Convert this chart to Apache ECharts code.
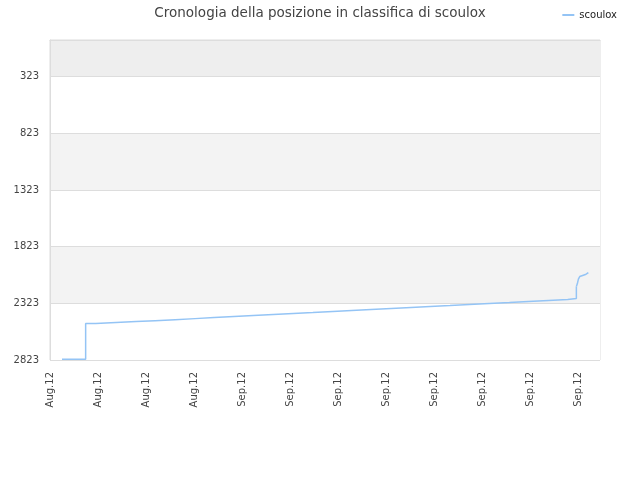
<!DOCTYPE html>
<html>
<head>
<meta charset="utf-8">
<script src="https://cdn.jsdelivr.net/npm/echarts@6/dist/echarts.min.js"></script>
<style>html,body{margin:0;padding:0;background:#fff;}#c{width:640px;height:480px;}</style>
</head>
<body>
<div id="c"></div>
<script>
// x in days from the first axis tick; stepped part of the history
var stepDays = [1.0, 2.97, 3.81, 5.5, 7.17, 8.75, 10.42, 12.08, 13.67, 15.33, 16.94, 18.6, 20.27, 21.9, 23.56, 25.14, 26.75, 28.42, 30.08, 31.67, 33.33, 34.94, 36.6, 38.28, 39.86, 41.53, 43.14, 43.86];
var stepRanks = [2816, 2502, 2493, 2484, 2476, 2467, 2458, 2449, 2440, 2431, 2422, 2413, 2405, 2396, 2387, 2378, 2369, 2360, 2351, 2343, 2334, 2325, 2316, 2307, 2298, 2289, 2281, 2175];
// final, continuously climbing part
var tailDays = [43.86, 43.94, 44.03, 44.14, 44.44, 44.67, 44.86];
var tailRanks = [2175, 2151, 2110, 2087, 2075, 2066, 2052];
var xTickValues = [0, 4, 8, 12, 16, 20, 24, 28, 32, 36, 40, 44];
var xTickLabels = ['Aug.12', 'Aug.12', 'Aug.12', 'Aug.12', 'Sep.12', 'Sep.12', 'Sep.12', 'Sep.12', 'Sep.12', 'Sep.12', 'Sep.12', 'Sep.12'];
var yTickValues = [0, 323, 823, 1323, 1823, 2323, 2823];
var yLabelValues = [323, 823, 1323, 1823, 2323, 2823];

function pairs(xs, ys) { return xs.map(function (x, i) { return [x, ys[i]]; }); }

var chart = echarts.init(document.getElementById('c'));
chart.setOption({
  animation: false,
  title: {
    text: 'Cronologia della posizione in classifica di scoulox',
    left: 'center', top: 1,
    textStyle: { fontFamily: 'DejaVu Sans', fontSize: 13.5, fontWeight: 'normal', color: '#444' }
  },
  legend: {
    right: 18, top: 5,
    itemWidth: 12, itemHeight: 2, itemGap: 8,
    icon: 'rect',
    textStyle: { fontFamily: 'DejaVu Sans', fontSize: 10, color: '#222' },
    data: ['scoulox']
  },
  grid: { left: 50, right: 40, top: 40, bottom: 120, show: true, borderColor: '#dddddd', borderWidth: 1, backgroundColor: 'transparent' },
  xAxis: {
    type: 'value', min: 0, max: 45.83,
    axisLine: { show: true, lineStyle: { color: '#dddddd' } },
    axisTick: { show: false },
    splitLine: { show: false },
    axisLabel: {
      customValues: xTickValues,
      rotate: 90, fontFamily: 'DejaVu Sans', fontSize: 10, color: '#444', margin: 12,
      formatter: function (v) { var i = xTickValues.indexOf(Math.round(v)); return i >= 0 ? xTickLabels[i] : ''; }
    }
  },
  yAxis: {
    type: 'value', inverse: true, min: 0, max: 2823,
    axisLine: { show: true, lineStyle: { color: '#dddddd' } },
    axisTick: { show: false, customValues: yTickValues },
    splitLine: { show: true, lineStyle: { color: '#dddddd' } },
    splitArea: { show: true, areaStyle: { color: ['#eeeeee', '#ffffff', '#f3f3f3', '#ffffff', '#f3f3f3', '#ffffff'] } },
    axisLabel: { customValues: yLabelValues, fontFamily: 'DejaVu Sans', fontSize: 10, color: '#444', margin: 11,
      formatter: function (v) { return String(v); } }
  },
  series: [{
    name: 'scoulox', type: 'line', step: 'end', showSymbol: false,
    lineStyle: { color: '#94c4f5', width: 1.5 },
    itemStyle: { color: '#94c4f5' },
    data: pairs(stepDays, stepRanks)
  }, {
    name: 'scoulox', type: 'line', showSymbol: false,
    lineStyle: { color: '#94c4f5', width: 1.5 },
    itemStyle: { color: '#94c4f5' },
    data: pairs(tailDays, tailRanks)
  }]
});
</script>
</body>
</html>
